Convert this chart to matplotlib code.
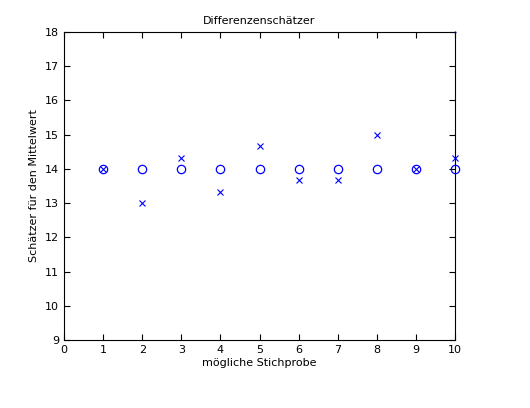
import matplotlib
matplotlib.use("Agg")
import matplotlib.pyplot as plt

samples = [1, 2, 3, 4, 5, 6, 7, 8, 9, 10]
mean_true = [14, 14, 14, 14, 14, 14, 14, 14, 14, 14]
diff_est = [14, 13, 14.33, 13.33, 14.67, 13.67, 13.67, 15, 14, 14.33]
dot_x = [10]
dot_y = [18]

fig = plt.figure(figsize=(5.30, 4.08), dpi=100)
ax = fig.add_axes([64/530, 1-340/408, (455-64)/530, (340-32)/408])
ax.plot(samples, mean_true, 'o', mfc='none', mec='#0000ff', ms=6, mew=0.9, clip_on=False)
ax.plot(samples, diff_est, 'x', color='#0000ff', ms=4, mew=0.8, clip_on=False)
ax.plot(dot_x, dot_y, '.', color='#0000ff', ms=1, clip_on=False)
ax.set_xlim(0, 10)
ax.set_ylim(9, 18)
ax.set_xticks(range(0, 11))
ax.set_yticks(range(9, 19))
ax.tick_params(direction='in', labelsize=8, length=4, top=True, right=True)
for s in ax.spines.values():
    s.set_linewidth(0.8)
ax.set_title('Differenzenschätzer', fontsize=8)
ax.set_xlabel('mögliche Stichprobe', fontsize=8, labelpad=2)
ax.set_ylabel('Schätzer für den Mittelwert', fontsize=8)
fig.savefig('out.png', dpi=100)
